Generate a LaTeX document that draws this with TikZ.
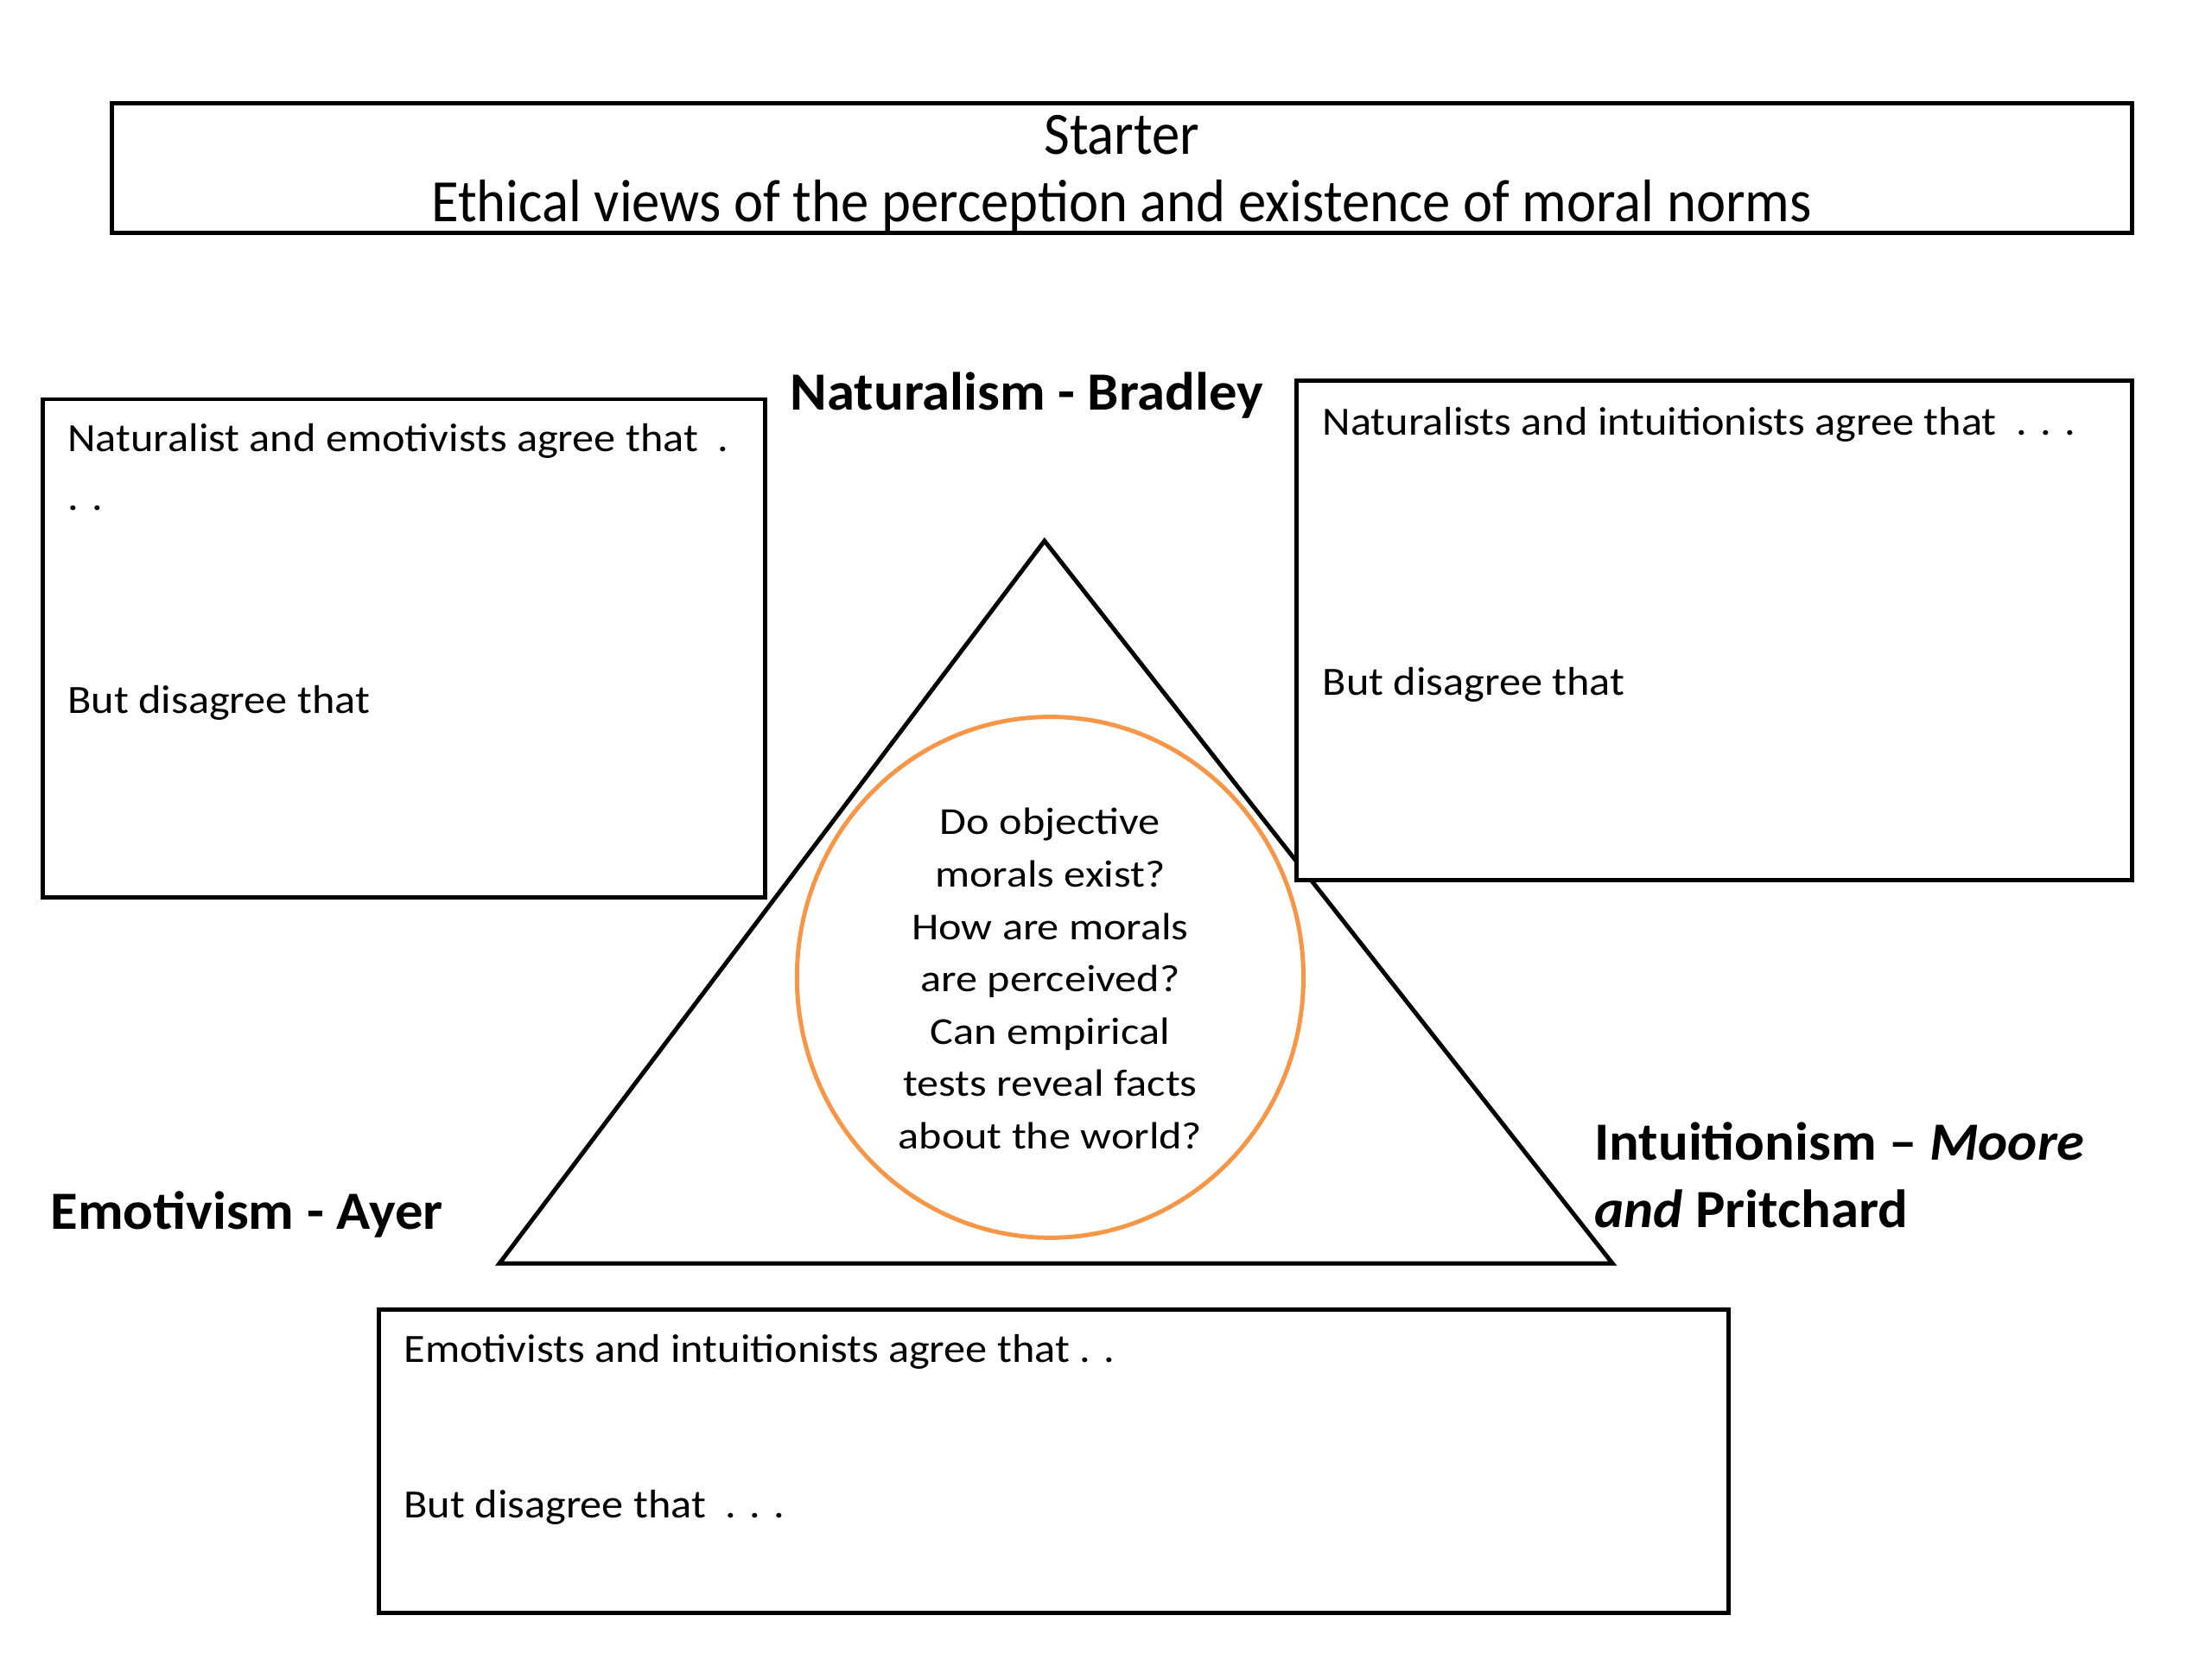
\documentclass[tikz,border=0pt]{standalone}
\usepackage{fontspec}
\setmainfont{Carlito}
\newfontfamily\titlefont[FakeStretch=0.93]{Carlito}
\newfontfamily\bodyfont[FakeStretch=1.085]{Carlito}
\newfontfamily\circfont[FakeStretch=1.14]{Carlito}
\newfontfamily\labelfont[FakeStretch=1.04]{Carlito}
\usetikzlibrary{shapes.geometric}
\definecolor{circorange}{HTML}{F79646}
\tikzset{
  framebox/.style={draw=black, line width=1.5pt, fill=white},
  bodytext/.style={anchor=mid west, inner sep=0pt, font=\bodyfont\fontsize{14}{16}\selectfont},
  labeltext/.style={inner sep=0pt, font=\labelfont\fontsize{18.8}{22}\selectfont\bfseries},
  titletext/.style={inner sep=0pt, anchor=mid, font=\titlefont\fontsize{21}{24}\selectfont},
}
\begin{document}
\begin{tikzpicture}[x=0.5pt,y=-0.5pt]
\useasboundingbox[fill=white] (0,0) rectangle (1546,1160);
% title
\draw[framebox] (78,72) rectangle (1490,163);
\node[titletext] (t1) at (784,103) {Starter};
\node[titletext] (t2) at (784,150) {Ethical views of the perception and existence of moral norms};
% triangle
\coordinate (apex) at (730,378);
\coordinate (bl) at (349,883);
\coordinate (br) at (1127,883);
\draw[line width=1.5pt, line join=miter] (apex) -- (bl) -- (br) -- cycle;
% circle
\node[ellipse, draw=circorange, line width=1.5pt, minimum width=177pt, minimum height=182pt, inner sep=0pt] (circ) at (734,683) {};
\node[align=center, inner sep=0pt, font=\circfont\fontsize{13.3}{18.3}\selectfont] (q) at (734,684) {Do objective\\morals exist?\\How are morals\\are perceived?\\Can empirical\\tests reveal facts\\about the world?};
% boxes
\draw[framebox] (30,279) rectangle (535,627);
\node[bodytext] (l1) at (47,311) {Naturalist and emotivists agree that\ \ .};
\node[bodytext] (l2) at (47,352) {. .};
\node[bodytext] (l3) at (47,494) {But disagree that};
\draw[framebox] (906,266) rectangle (1490,615);
\node[bodytext] (r1) at (924,299) {Naturalists and intuitionists agree that\ \ . . .};
\node[bodytext] (r2) at (924,481) {But disagree that};
\draw[framebox] (265,915) rectangle (1208,1127);
\node[bodytext] (b1) at (282,947) {Emotivists and intuitionists agree that . .};
\node[bodytext] (b2) at (282,1056) {But disagree that\ \ . . .};
% labels
\node[labeltext, anchor=mid west] (nat) at (552,282) {Naturalism - Bradley};
\node[labeltext, anchor=mid west] (emo) at (35,854) {Emotivism - Ayer};
\node[labeltext, anchor=mid west] (int1) at (1114,806) {Intuitionism – \textit{Moore}};
\node[labeltext, anchor=mid west] (int2) at (1114,853) {\textit{and} Pritchard};
\end{tikzpicture}
\end{document}
